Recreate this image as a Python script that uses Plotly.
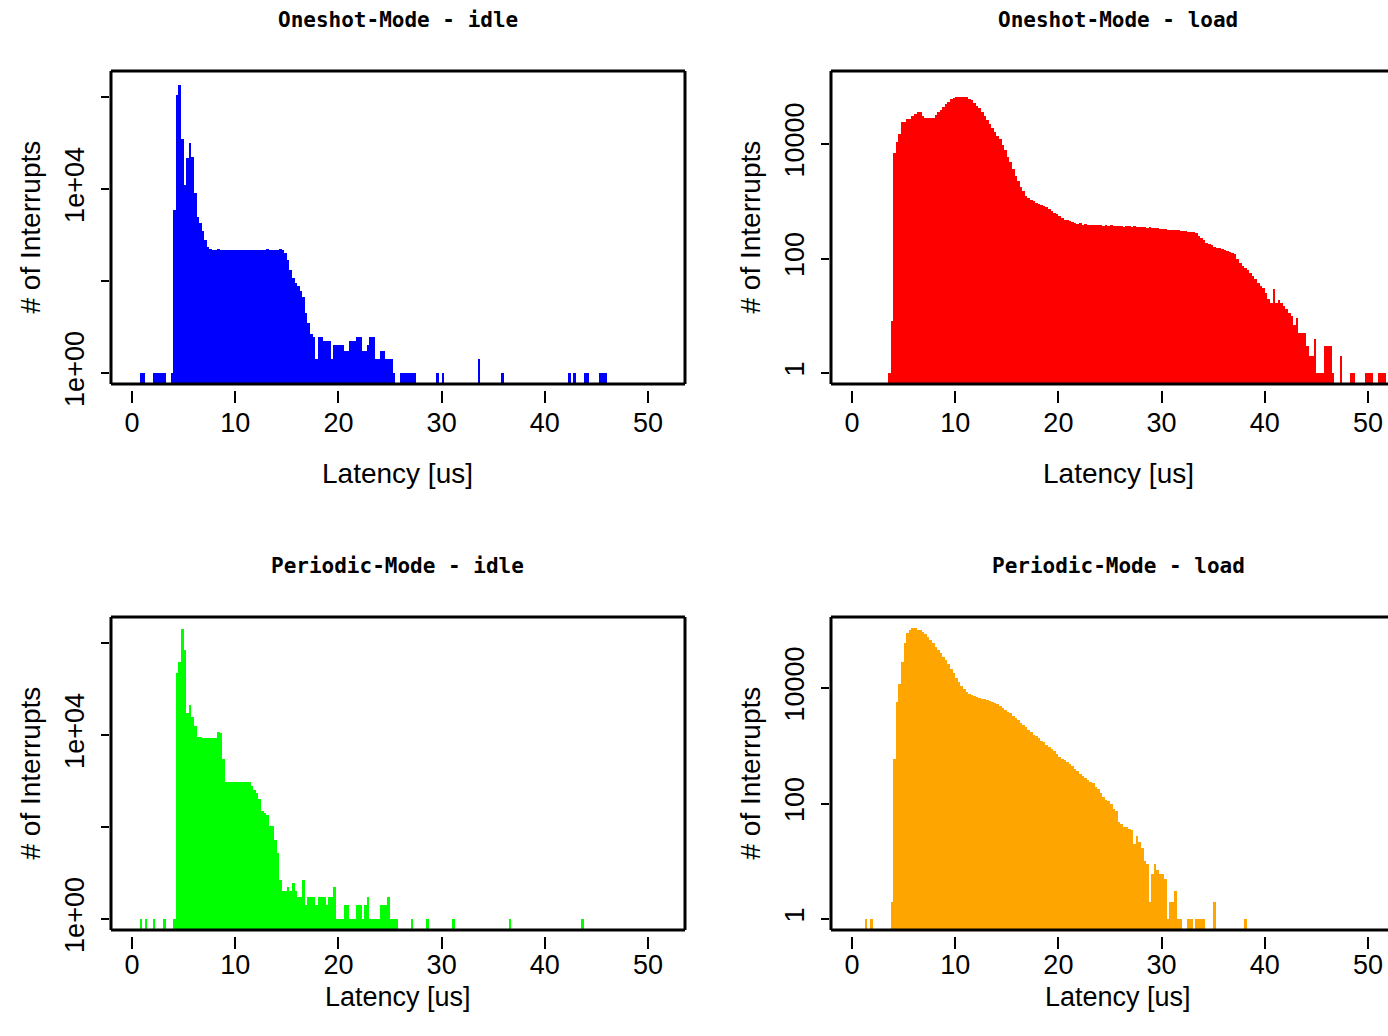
import plotly.graph_objects as go

# Interrupt latency histograms, 0.25 us bins starting at 0 us.
BIN_WIDTH = 0.25
LATENCY_TICKS = [0, 10, 20, 30, 40, 50]

oneshot_idle_counts = [
    0, 0, 0, 1, 1, 0, 0, 0,
    1, 1, 1, 1, 1, 0, 0, 1,
    3500, 1100000, 1800000, 120000, 12000, 47000, 100000, 50000,
    8000, 2500, 1800, 1200, 780, 560, 500, 480,
    470, 490, 480, 470, 480, 470, 470, 480,
    470, 470, 480, 480, 480, 470, 480, 480,
    470, 480, 470, 470, 500, 480, 470, 480,
    480, 490, 480, 400, 290, 177, 116, 90,
    76, 60, 46, 20, 12, 7, 6, 2,
    6, 6, 5, 5, 5, 2, 4, 4,
    4, 4, 3, 3, 5, 5, 5, 6,
    6, 3, 3, 4, 6, 6, 2, 2,
    3, 3, 2, 2, 2, 1, 0, 0,
    1, 1, 1, 1, 1, 1, 0, 0,
    0, 0, 0, 0, 0, 0, 1, 0,
    1, 0, 0, 0, 0, 0, 0, 0,
    0, 0, 0, 0, 0, 0, 2, 0,
    0, 0, 0, 0, 0, 0, 0, 1,
    0, 0, 0, 0, 0, 0, 0, 0,
    0, 0, 0, 0, 0, 0, 0, 0,
    0, 0, 0, 0, 0, 0, 0, 0,
    0, 1, 0, 1, 0, 0, 0, 1,
    1, 0, 0, 0, 0, 1, 1, 1,
]

oneshot_load_counts = [
    0, 0, 0, 0, 0, 0, 0, 0,
    0, 0, 0, 0, 0, 0, 1, 8,
    7000, 11000, 15000, 24000, 24000, 27000, 27000, 31000,
    33000, 36000, 36000, 31000, 29000, 28000, 28000, 29000,
    32000, 36000, 40000, 45000, 50000, 55000, 60000, 63000,
    66000, 66000, 66000, 66000, 65000, 61000, 58000, 53000,
    47000, 42000, 36000, 31000, 26000, 22000, 19000, 16000,
    14000, 12000, 9500, 8000, 6000, 4800, 3700, 2800,
    2300, 1800, 1500, 1250, 1150, 1050, 1000, 950,
    900, 850, 830, 780, 720, 680, 630, 590,
    550, 500, 480, 470, 450, 430, 420, 400,
    410, 390, 400, 390, 380, 390, 380, 385,
    380, 375, 385, 370, 380, 370, 375, 365,
    370, 360, 370, 365, 360, 370, 355, 360,
    350, 350, 345, 350, 340, 335, 340, 330,
    330, 325, 320, 320, 315, 310, 310, 305,
    300, 300, 290, 290, 285, 280, 250, 230,
    210, 190, 177, 170, 160, 155, 150, 145,
    140, 135, 130, 127, 120, 97, 85, 74,
    68, 62, 55, 50, 43, 38, 33, 30,
    25, 20, 17, 29, 17, 19, 17, 15,
    13, 11, 10, 7, 9, 5, 5, 5,
    3, 2, 2, 4, 1, 1, 1, 3,
    3, 3, 1, 0, 0, 2, 0, 0,
    0, 1, 1, 0, 0, 0, 0, 1,
    1, 1, 0, 0, 1, 1, 1, 0,
]

periodic_idle_counts = [
    0, 0, 0, 1, 0, 1, 0, 0,
    1, 0, 0, 0, 1, 0, 0, 0,
    1, 220000, 390000, 2000000, 700000, 30000, 45000, 25000,
    16000, 9200, 9000, 8500, 8500, 8500, 8500, 8500,
    8500, 11800, 11000, 3000, 930, 930, 930, 930,
    930, 930, 930, 930, 930, 930, 760, 650,
    540, 400, 218, 200, 183, 106, 106, 52,
    27, 7, 4, 4, 5, 4, 6, 4,
    3, 3, 7, 2, 3, 3, 3, 2,
    3, 3, 3, 2, 3, 3, 5, 1,
    1, 1, 2, 2, 1, 1, 1, 2,
    2, 1, 2, 3, 1, 1, 1, 1,
    2, 2, 2, 3, 1, 1, 1, 0,
    0, 0, 0, 0, 1, 0, 0, 0,
    0, 0, 1, 0, 0, 0, 0, 0,
    0, 0, 0, 0, 1, 0, 0, 0,
    0, 0, 0, 0, 0, 0, 0, 0,
    0, 0, 0, 0, 0, 0, 0, 0,
    0, 0, 1, 0, 0, 0, 0, 0,
    0, 0, 0, 0, 0, 0, 0, 0,
    0, 0, 0, 0, 0, 0, 0, 0,
    0, 0, 0, 0, 0, 0, 1, 0,
]

periodic_load_counts = [
    0, 0, 0, 0, 0, 1, 0, 1,
    0, 0, 0, 0, 0, 0, 0, 2,
    600, 5700, 11700, 28000, 60000, 90000, 100000, 108000,
    108000, 102000, 100000, 95000, 85000, 76000, 68000, 60000,
    52000, 46000, 40000, 35000, 30000, 26000, 21000, 18000,
    15000, 12500, 11000, 9500, 8500, 7900, 7500, 7400,
    7000, 6700, 6500, 6400, 6300, 6000, 5700, 5500,
    5200, 4800, 4500, 4200, 3900, 3700, 3300, 3000,
    2800, 2500, 2300, 2100, 1900, 1750, 1550, 1450,
    1350, 1200, 1150, 1050, 950, 870, 800, 720,
    650, 600, 560, 520, 490, 450, 400, 360,
    330, 300, 280, 260, 240, 225, 190, 175,
    150, 130, 115, 110, 100, 80, 75, 47,
    45, 40, 40, 36, 35, 20, 27, 22,
    17, 10, 9, 2, 6, 9, 7, 6,
    6, 5, 1, 2, 2, 3, 1, 1,
    0, 0, 1, 1, 0, 1, 1, 1,
    1, 0, 0, 0, 2, 0, 0, 0,
    0, 0, 0, 0, 0, 0, 0, 0,
    1,
]

W, H = 1388, 1036
# vertical layout is worked out against the height the page actually shows
H_LAYOUT = 1013
SANS = "Liberation Sans, Arial, sans-serif"
MONO = "DejaVu Sans Mono, monospace"
BAR_FLOOR = 0.5  # bars rise from just under the lowest visible count


def fx(px):
    return px / W


def fy(px):
    return 1 - px / H_LAYOUT


panels = [
    dict(name="Oneshot-Mode - idle", counts=oneshot_idle_counts, color="#0000ff",
         left=111, right=685, top=71, bottom=384, xrange=[-2.035, 53.58],
         yrange=[-0.239, 6.565], yticks=[1, 100, 1e4, 1e6],
         ytext=["1e+00", "", "1e+04", ""]),
    dict(name="Oneshot-Mode - load", counts=oneshot_load_counts, color="#ff0000",
         left=831, right=1388, top=71, bottom=384, xrange=[-2.035, 51.94],
         yrange=[-0.192, 5.275], yticks=[1, 100, 10000],
         ytext=["1", "100", "10000"]),
    dict(name="Periodic-Mode - idle", counts=periodic_idle_counts, color="#00ff00",
         left=111, right=685, top=617, bottom=930, xrange=[-2.035, 53.58],
         yrange=[-0.239, 6.565], yticks=[1, 100, 1e4, 1e6],
         ytext=["1e+00", "", "1e+04", ""]),
    dict(name="Periodic-Mode - load", counts=periodic_load_counts, color="#ffa500",
         left=831, right=1388, top=617, bottom=930, xrange=[-2.035, 51.94],
         yrange=[-0.19, 5.23], yticks=[1, 100, 10000],
         ytext=["1", "100", "10000"]),
]

fig = go.Figure()
shapes = []
annotations = []
layout_axes = {}


def frame_line(x0, y0, x1, y1):
    return dict(type="line", xref="paper", yref="paper",
                x0=fx(x0), y0=fy(y0), x1=fx(x1), y1=fy(y1),
                line=dict(color="black", width=3), layer="above")


for i, p in enumerate(panels, start=1):
    xa = "x" if i == 1 else f"x{i}"
    ya = "y" if i == 1 else f"y{i}"
    xs, ys = [], []
    for k, c in enumerate(p["counts"]):
        if c > 0:
            xs.append(k * BIN_WIDTH + BIN_WIDTH / 2)
            ys.append(c)
    fig.add_trace(go.Bar(x=xs, y=[c - BAR_FLOOR for c in ys], base=BAR_FLOOR,
                         width=BIN_WIDTH, xaxis=xa, yaxis=ya,
                         marker=dict(color=p["color"], line=dict(width=0)),
                         customdata=ys, hovertemplate="%{x}: %{customdata}<extra></extra>",
                         showlegend=False))

    L, R, T, B = p["left"], p["right"], p["top"], p["bottom"]
    lower_row = B > 500

    layout_axes["xaxis" if i == 1 else f"xaxis{i}"] = dict(
        domain=[fx(L), fx(R)], range=p["xrange"],
        anchor="free", position=fy(B + 6),
        tickmode="array", tickvals=LATENCY_TICKS,
        ticks="outside", ticklen=12, tickwidth=2, tickcolor="black",
        ticklabelstandoff=-7 if lower_row else -3,
        showline=False, showgrid=False, zeroline=False,
        tickfont=dict(family=SANS, size=27, color="black"),
    )
    layout_axes["yaxis" if i == 1 else f"yaxis{i}"] = dict(
        domain=[fy(B), fy(T)], type="log", range=p["yrange"],
        anchor="free", position=fx(L - 2),
        tickmode="array", tickvals=p["yticks"], ticktext=p["ytext"],
        ticks="outside", ticklen=8, tickwidth=2, tickcolor="black",
        ticklabelstandoff=6,
        tickangle=-90, showline=False, showgrid=False, zeroline=False,
        tickfont=dict(family=SANS, size=27, color="black"),
    )

    # plot frame; the right-hand panels run on past the page edge
    shapes.append(frame_line(L, T, R, T))
    shapes.append(frame_line(L, B, R, B))
    shapes.append(frame_line(L, T, L, B))
    if R < W:
        shapes.append(frame_line(R, T, R, B))

    full_right = L + 574
    cx = (L + full_right) / 2
    cy = (T + B) / 2
    annotations.append(dict(text=f"<b>{p['name']}</b>", x=fx(cx), y=fy(T - 51),
                            xref="paper", yref="paper", showarrow=False,
                            xanchor="center", yanchor="middle",
                            font=dict(family=MONO, size=21, color="black")))
    xlabel_bottom = min(B + 106, H_LAYOUT)
    annotations.append(dict(text="Latency [us]", x=fx(cx), y=fy(xlabel_bottom),
                            xref="paper", yref="paper", showarrow=False,
                            xanchor="center", yanchor="bottom", borderpad=0,
                            font=dict(family=SANS, size=27 if lower_row else 28,
                                      color="black")))
    annotations.append(dict(text="# of Interrupts", x=fx(L - 81), y=fy(cy),
                            xref="paper", yref="paper", showarrow=False,
                            textangle=-90, xanchor="center", yanchor="middle",
                            font=dict(family=SANS, size=28, color="black")))

fig.update_layout(
    width=W, height=H, margin=dict(l=0, r=0, t=0, b=0),
    paper_bgcolor="white", plot_bgcolor="white",
    bargap=0, barmode="overlay",
    shapes=shapes, annotations=annotations,
    **layout_axes,
)

fig.write_html("out.html", config={"displayModeBar": False})
